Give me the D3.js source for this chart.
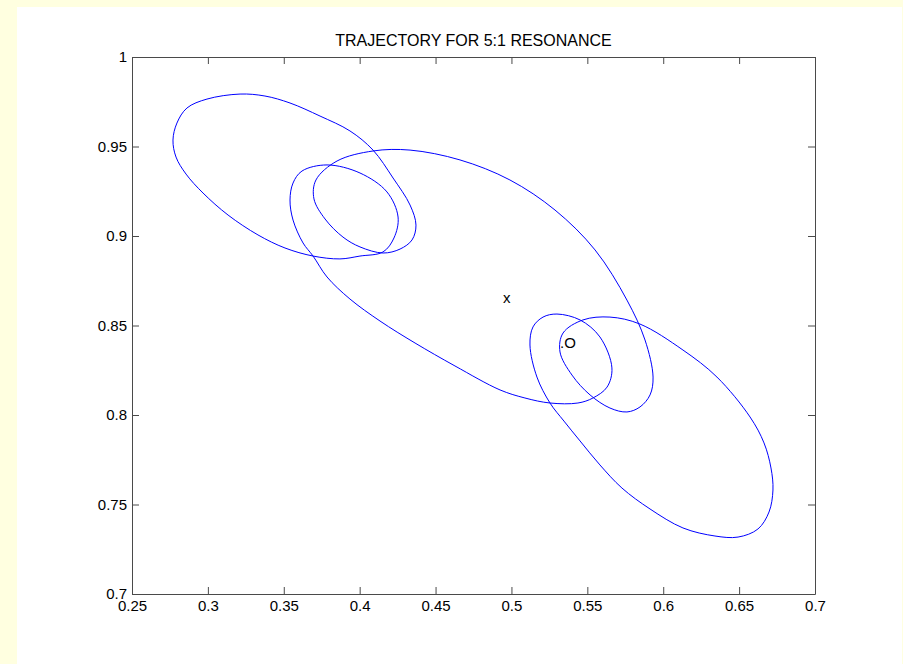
<!DOCTYPE html>
<html>
<head>
<meta charset="utf-8">
<script src="https://cdn.jsdelivr.net/npm/d3@7"></script>
<style>
  html, body { margin: 0; padding: 0; background: #ffffe0; }
  svg { display: block; }
</style>
</head>
<body>
<svg id="chart" width="903" height="664"></svg>
<script>
// Orbit trajectory in the rotating frame (one closed loop, traced in order)
const trajX = [
  0.4925, 0.4628, 0.4365, 0.4134, 0.3936, 0.3785, 0.3693, 0.3627, 0.3561, 0.3541,
  0.3561, 0.3620, 0.3785, 0.4002, 0.4180, 0.4253, 0.4226, 0.4154, 0.4002, 0.3870,
  0.3693, 0.3508, 0.3330, 0.3133, 0.2968, 0.2856, 0.2790, 0.2770, 0.2796, 0.2862,
  0.2994, 0.3212, 0.3376, 0.3541, 0.3739, 0.3936, 0.4088, 0.4220, 0.4332, 0.4371,
  0.4345, 0.4266, 0.4154, 0.4002, 0.3890, 0.3772, 0.3699, 0.3712, 0.3851, 0.4088,
  0.4332, 0.4661, 0.4990, 0.5287, 0.5551, 0.5761, 0.5880, 0.5933, 0.5913, 0.5847,
  0.5761, 0.5649, 0.5518, 0.5399, 0.5320, 0.5340, 0.5471, 0.5649, 0.5847, 0.6130,
  0.6354, 0.6572, 0.6664, 0.6710, 0.6723, 0.6697, 0.6624, 0.6493, 0.6341, 0.6130,
  0.5913, 0.5728, 0.5583, 0.5452, 0.5346, 0.5254, 0.5168, 0.5122, 0.5142, 0.5208,
  0.5300, 0.5452, 0.5583, 0.5662, 0.5630, 0.5537, 0.5438, 0.5254, 0.5089
];
const trajY = [
  0.8140, 0.8274, 0.8402, 0.8525, 0.8648, 0.8771, 0.8888, 0.8961, 0.9089, 0.9201,
  0.9296, 0.9363, 0.9397, 0.9352, 0.9246, 0.9106, 0.8989, 0.8911, 0.8888, 0.8872,
  0.8888, 0.8933, 0.9006, 0.9117, 0.9240, 0.9346, 0.9441, 0.9536, 0.9631, 0.9715,
  0.9765, 0.9793, 0.9782, 0.9743, 0.9670, 0.9587, 0.9480, 0.9324, 0.9173, 0.9061,
  0.8978, 0.8927, 0.8905, 0.8939, 0.8994, 0.9095, 0.9207, 0.9313, 0.9419, 0.9475,
  0.9480, 0.9425, 0.9313, 0.9145, 0.8922, 0.8642, 0.8419, 0.8212, 0.8112, 0.8045,
  0.8017, 0.8039, 0.8112, 0.8223, 0.8352, 0.8458, 0.8531, 0.8547, 0.8508, 0.8363,
  0.8212, 0.7989, 0.7844, 0.7704, 0.7581, 0.7458, 0.7363, 0.7318, 0.7324, 0.7369,
  0.7475, 0.7592, 0.7721, 0.7855, 0.7966, 0.8067, 0.8212, 0.8391, 0.8492, 0.8547,
  0.8564, 0.8531, 0.8436, 0.8263, 0.8156, 0.8095, 0.8067, 0.8067, 0.8095
];

// Point labels placed in data coordinates
const markText = ["x", ".O"];
const markX = [0.4944, 0.5320];
const markY = [0.8626, 0.8374];

// Axis ticks
const xTicks = [0.25, 0.3, 0.35, 0.4, 0.45, 0.5, 0.55, 0.6, 0.65, 0.7];
const xTickLabels = ["0.25", "0.3", "0.35", "0.4", "0.45", "0.5", "0.55", "0.6", "0.65", "0.7"];
const yTicks = [0.7, 0.75, 0.8, 0.85, 0.9, 0.95, 1];
const yTickLabels = ["0.7", "0.75", "0.8", "0.85", "0.9", "0.95", "1"];

const titleText = "TRAJECTORY FOR 5:1 RESONANCE";

const svg = d3.select("#chart");
const W = 903, H = 664;
const plot = { left: 132, right: 815, top: 57, bottom: 594 };
const font = "'Liberation Sans', Arial, Helvetica, sans-serif";
const axisColor = "#4a4a4a";

// figure background: yellow border with a white canvas
svg.append("rect").attr("x", 0).attr("y", 0).attr("width", W).attr("height", H).attr("fill", "#ffffe0");
svg.append("rect").attr("x", 17).attr("y", 7).attr("width", 885).attr("height", H - 7).attr("fill", "#ffffff");

const x = d3.scaleLinear().domain([0.25, 0.7]).range([plot.left, plot.right]);
const y = d3.scaleLinear().domain([0.7, 1]).range([plot.bottom, plot.top]);

// trajectory
const pts = trajX.map((v, i) => [v, trajY[i]]);
const line = d3.line()
  .x(d => x(d[0]))
  .y(d => y(d[1]))
  .curve(d3.curveCatmullRomClosed.alpha(0.5));

svg.append("path")
  .datum(pts)
  .attr("d", line)
  .attr("fill", "none")
  .attr("stroke", "#0000ff")
  .attr("stroke-width", 1);

// axes: ticks point inwards on all four sides
const tickLen = 7;
const fmtX = d => xTickLabels[xTicks.indexOf(d)];
const fmtY = d => yTickLabels[yTicks.indexOf(d)];

function styleAxis(g) {
  g.selectAll(".domain").attr("stroke", axisColor).attr("stroke-width", 1);
  g.selectAll(".tick line").attr("stroke", axisColor).attr("stroke-width", 1);
  g.selectAll(".tick text").attr("fill", "#000").attr("font-family", font).attr("font-size", "15px");
}

const gBottom = svg.append("g")
  .attr("transform", `translate(0,${plot.bottom})`)
  .call(d3.axisBottom(x).tickValues(xTicks).tickFormat(fmtX).tickSizeInner(-tickLen).tickSizeOuter(0).tickPadding(6));
styleAxis(gBottom);

const gTop = svg.append("g")
  .attr("transform", `translate(0,${plot.top})`)
  .call(d3.axisTop(x).tickValues(xTicks).tickFormat("").tickSizeInner(-tickLen).tickSizeOuter(0));
styleAxis(gTop);

const gLeft = svg.append("g")
  .attr("transform", `translate(${plot.left},0)`)
  .call(d3.axisLeft(y).tickValues(yTicks).tickFormat(fmtY).tickSizeInner(-tickLen).tickSizeOuter(0).tickPadding(5));
styleAxis(gLeft);

const gRight = svg.append("g")
  .attr("transform", `translate(${plot.right},0)`)
  .call(d3.axisRight(y).tickValues(yTicks).tickFormat("").tickSizeInner(-tickLen).tickSizeOuter(0));
styleAxis(gRight);

// title
svg.append("text")
  .attr("x", (plot.left + plot.right) / 2)
  .attr("y", 46)
  .attr("text-anchor", "middle")
  .attr("font-family", font)
  .attr("font-size", "16px")
  .attr("fill", "#000")
  .text(titleText);

// point labels
svg.append("g").selectAll("text")
  .data(markText)
  .join("text")
  .attr("x", (d, i) => x(markX[i]))
  .attr("y", (d, i) => y(markY[i]))
  .attr("font-family", font)
  .attr("font-size", "15px")
  .attr("fill", "#000")
  .text(d => d);
</script>
</body>
</html>
